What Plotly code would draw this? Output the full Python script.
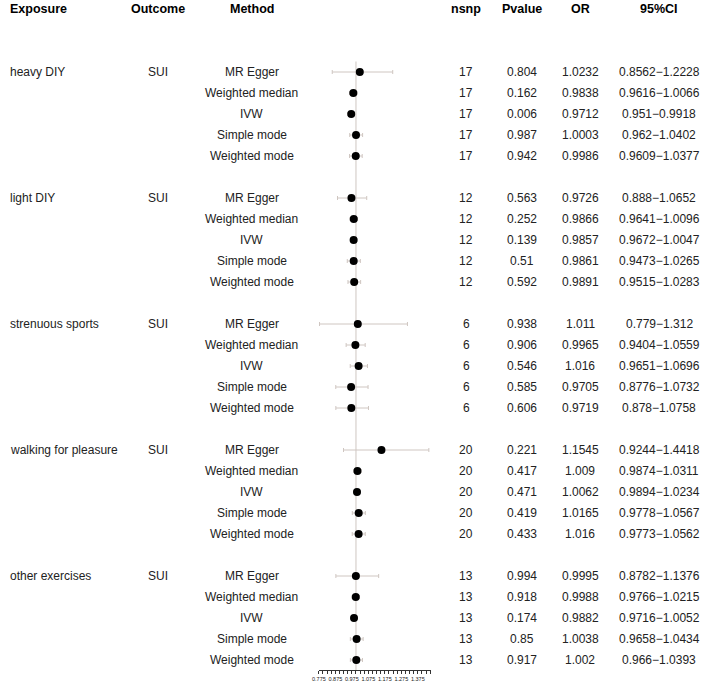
import plotly.graph_objects as go

W, H = 702, 688

# ---------------- data ----------------
exposures = ["heavy DIY", "light DIY", "strenuous sports", "walking for pleasure", "other exercises"]
outcome = "SUI"
methods = ["MR Egger", "Weighted median", "IVW", "Simple mode", "Weighted mode"]
nsnp = [17, 12, 6, 20, 13]

pvalues = [
    ["0.804", "0.162", "0.006", "0.987", "0.942"],
    ["0.563", "0.252", "0.139", "0.51", "0.592"],
    ["0.938", "0.906", "0.546", "0.585", "0.606"],
    ["0.221", "0.417", "0.471", "0.419", "0.433"],
    ["0.994", "0.918", "0.174", "0.85", "0.917"],
]
or_vals = [
    [1.0232, 0.9838, 0.9712, 1.0003, 0.9986],
    [0.9726, 0.9866, 0.9857, 0.9861, 0.9891],
    [1.011, 0.9965, 1.016, 0.9705, 0.9719],
    [1.1545, 1.009, 1.0062, 1.0165, 1.016],
    [0.9995, 0.9988, 0.9882, 1.0038, 1.002],
]
ci_low = [
    [0.8562, 0.9616, 0.951, 0.962, 0.9609],
    [0.888, 0.9641, 0.9672, 0.9473, 0.9515],
    [0.779, 0.9404, 0.9651, 0.8776, 0.878],
    [0.9244, 0.9874, 0.9894, 0.9778, 0.9773],
    [0.8782, 0.9766, 0.9716, 0.9658, 0.966],
]
ci_high = [
    [1.2228, 1.0066, 0.9918, 1.0402, 1.0377],
    [1.0652, 1.0096, 1.0047, 1.0265, 1.0283],
    [1.312, 1.0559, 1.0696, 1.0732, 1.0758],
    [1.4418, 1.0311, 1.0234, 1.0567, 1.0562],
    [1.1376, 1.0215, 1.0052, 1.0434, 1.0393],
]
headers = ["Exposure", "Outcome", "Method", "nsnp", "Pvalue", "OR", "95%CI"]
tick_start, tick_step, n_ticks = 0.775, 0.025, 28

# ---------------- layout helpers ----------------
ROW0_PX, ROW_PX = 9, 21          # pixel y of header row and row pitch
AXIS_PX = 670                    # pixel y of the x axis line
r_top = -ROW0_PX / ROW_PX
r_bottom = (AXIS_PX - ROW0_PX) / ROW_PX

def px(x):
    return x / W

col_x = {"Exposure": 1, "Outcome": 153, "Method": 247, "nsnp": 464,
         "Pvalue": 520, "OR": 579, "95%CI": 659}

TEXT_FONT = dict(family="Liberation Sans, Arial, sans-serif", size=12, color="#222222")
HEAD_FONT = dict(family="Liberation Sans, Arial, sans-serif", size=12.5, color="#000000")
LINE_COL = "#cfc6c1"

# build row data
rows, xs, lo_err, hi_err = [], [], [], []
annotations = []
for g, expo in enumerate(exposures):
    for m, meth in enumerate(methods):
        r = 3 + g * 6 + m
        o = or_vals[g][m]
        rows.append(r)
        xs.append(o)
        lo_err.append(o - ci_low[g][m])
        hi_err.append(ci_high[g][m] - o)
        cells = {
            "Method": meth,
            "nsnp": str(nsnp[g]),
            "Pvalue": pvalues[g][m],
            "OR": f"{o}",
            "95%CI": f"{ci_low[g][m]}\u2212{ci_high[g][m]}",
        }
        if m == 0:
            cells["Exposure"] = expo
            cells["Outcome"] = outcome
        for k, v in cells.items():
            annotations.append(dict(
                x=px(col_x[k]), xref="paper", y=r, yref="y",
                text=v, showarrow=False, font=TEXT_FONT,
                xanchor="left" if k == "Exposure" else "center", yanchor="middle"))

for h in headers:
    annotations.append(dict(
        x=px(col_x[h]), xref="paper", y=0, yref="y",
        text=f"<b>{h}</b>", showarrow=False, font=HEAD_FONT,
        xanchor="left" if h == "Exposure" else "center", yanchor="middle"))

fig = go.Figure()
fig.add_trace(go.Scatter(
    x=xs, y=rows, mode="markers",
    marker=dict(color="black", size=8),
    error_x=dict(type="data", symmetric=False, array=hi_err, arrayminus=lo_err,
                 color=LINE_COL, thickness=1, width=2),
    cliponaxis=False, showlegend=False, hoverinfo="skip"))

fig.add_shape(type="line", xref="x", yref="y", x0=1, x1=1, y0=2.5, y1=r_bottom,
              line=dict(color=LINE_COL, width=1), layer="below")

tickvals = [round(tick_start + tick_step * i, 3) for i in range(n_ticks)]
ticktext = [f"{v:.3f}" if i % 4 == 0 else "" for i, v in enumerate(tickvals)]

fig.update_layout(
    width=W, height=H,
    margin=dict(l=0, r=0, t=0, b=0),
    paper_bgcolor="white", plot_bgcolor="white",
    annotations=annotations,
    xaxis=dict(domain=[px(315), px(428.3)], range=[0.775, 1.455],
               tickvals=tickvals, ticktext=ticktext,
               ticks="outside", ticklen=3, tickwidth=1, tickcolor="#333333",
               tickfont=dict(family="Liberation Sans, Arial, sans-serif", size=5.5, color="#222222"),
               showline=True, linecolor="#333333", linewidth=1,
               showgrid=False, zeroline=False, tickangle=0, fixedrange=True),
    yaxis=dict(domain=[(H - AXIS_PX) / H, 1], range=[r_bottom, r_top],
               visible=False, showgrid=False, zeroline=False, fixedrange=True),
)

fig.write_html(
    "out.html",
    config={"displayModeBar": False},
    post_script="document.body.style.margin='0';document.body.style.overflow='hidden';",
)
